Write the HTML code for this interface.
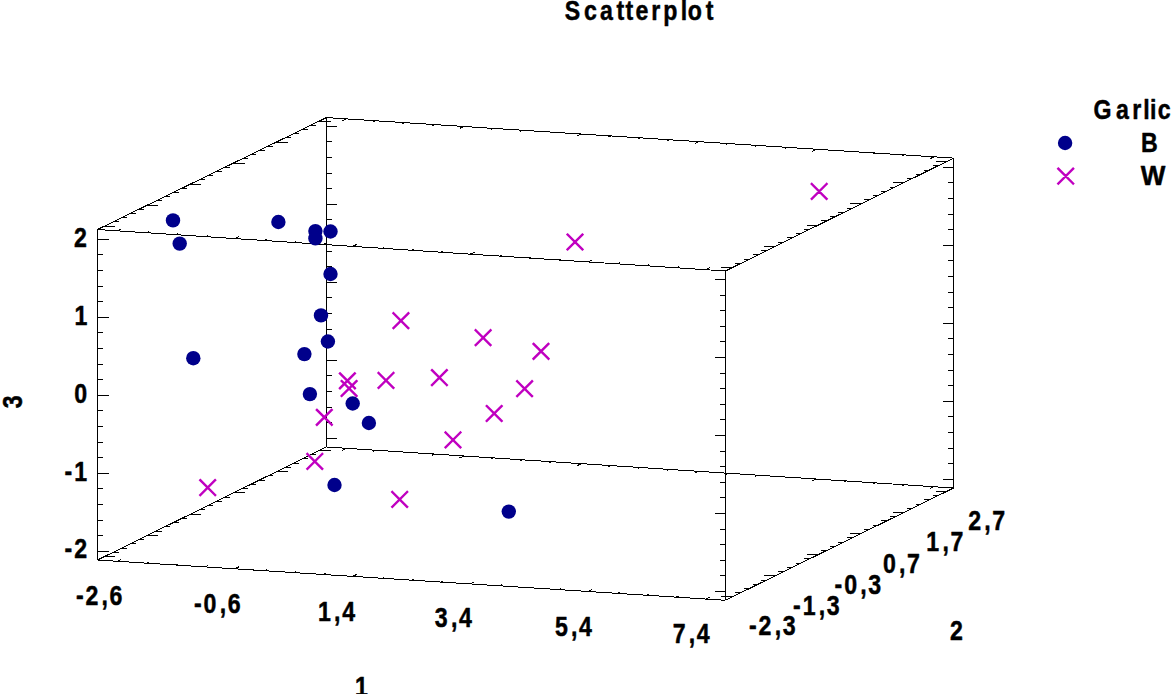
<!DOCTYPE html>
<html lang="en"><head><meta charset="utf-8"><title>Scatterplot</title>
<style>html,body{margin:0;padding:0;background:#fff}svg{display:block}text{font-family:"Liberation Sans",Arial,sans-serif;font-weight:bold;font-size:28.4px;fill:#000;stroke:#000;stroke-width:0.5px;stroke-linejoin:round}</style></head><body>
<svg width="1171" height="694" viewBox="0 0 1171 694">
<rect width="1171" height="694" fill="#fff"/>
<g stroke="#000" stroke-width="1" fill="none" shape-rendering="crispEdges">
<path d="M97.5 560.0L725.5 600.3M97.5 229.5L725.5 271.0M326.4 447.0L953.6 488.0M326.4 117.6L953.6 158.1M97.5 560.0L326.4 447.0M97.5 229.5L326.4 117.6M725.5 600.3L953.6 488.0M725.5 271.0L953.6 158.1M97.5 560.0L97.5 229.5M326.4 447.0L326.4 117.6M725.5 600.3L725.5 271.0M953.6 488.0L953.6 158.1M97.5 551.2L108.5 551.2M97.5 535.6L103.0 535.6M97.5 520.0L103.0 520.0M97.5 504.4L103.0 504.4M97.5 488.8L103.0 488.8M97.5 473.2L108.5 473.2M97.5 457.6L103.0 457.6M97.5 442.0L103.0 442.0M97.5 426.4L103.0 426.4M97.5 410.8L103.0 410.8M97.5 395.2L108.5 395.2M97.5 379.6L103.0 379.6M97.5 364.0L103.0 364.0M97.5 348.4L103.0 348.4M97.5 332.8L103.0 332.8M97.5 317.2L108.5 317.2M97.5 301.6L103.0 301.6M97.5 286.0L103.0 286.0M97.5 270.4L103.0 270.4M97.5 254.8L103.0 254.8M97.5 239.2L108.5 239.2M326.4 438.2L337.4 438.2M326.4 422.6L331.9 422.6M326.4 407.0L331.9 407.0M326.4 391.4L331.9 391.4M326.4 375.8L331.9 375.8M326.4 360.2L337.4 360.2M326.4 344.6L331.9 344.6M326.4 329.0L331.9 329.0M326.4 313.4L331.9 313.4M326.4 297.8L331.9 297.8M326.4 282.2L337.4 282.2M326.4 266.6L331.9 266.6M326.4 251.0L331.9 251.0M326.4 235.4L331.9 235.4M326.4 219.8L331.9 219.8M326.4 204.2L337.4 204.2M326.4 188.6L331.9 188.6M326.4 173.0L331.9 173.0M326.4 157.4L331.9 157.4M326.4 141.8L331.9 141.8M326.4 126.2L337.4 126.2M725.5 591.5L714.5 591.5M725.5 575.9L720.0 575.9M725.5 560.3L720.0 560.3M725.5 544.7L720.0 544.7M725.5 529.1L720.0 529.1M725.5 513.5L714.5 513.5M725.5 497.9L720.0 497.9M725.5 482.3L720.0 482.3M725.5 466.7L720.0 466.7M725.5 451.1L720.0 451.1M725.5 435.5L714.5 435.5M725.5 419.9L720.0 419.9M725.5 404.3L720.0 404.3M725.5 388.7L720.0 388.7M725.5 373.1L720.0 373.1M725.5 357.5L714.5 357.5M725.5 341.9L720.0 341.9M725.5 326.3L720.0 326.3M725.5 310.7L720.0 310.7M725.5 295.1L720.0 295.1M725.5 279.5L714.5 279.5M953.6 479.2L942.6 479.2M953.6 463.6L948.1 463.6M953.6 448.0L948.1 448.0M953.6 432.4L948.1 432.4M953.6 416.8L948.1 416.8M953.6 401.2L942.6 401.2M953.6 385.6L948.1 385.6M953.6 370.0L948.1 370.0M953.6 354.4L948.1 354.4M953.6 338.8L948.1 338.8M953.6 323.2L942.6 323.2M953.6 307.6L948.1 307.6M953.6 292.0L948.1 292.0M953.6 276.4L948.1 276.4M953.6 260.8L948.1 260.8M953.6 245.2L942.6 245.2M953.6 229.6L948.1 229.6M953.6 214.0L948.1 214.0M953.6 198.4L948.1 198.4M953.6 182.8L948.1 182.8M953.6 167.2L942.6 167.2M104.4 556.6L115.4 556.6M113.0 552.4L118.5 552.4M121.6 548.1L127.1 548.1M130.2 543.9L135.7 543.9M138.8 539.6L144.3 539.6M147.4 535.4L158.4 535.4M156.0 531.1L161.5 531.1M164.6 526.9L170.1 526.9M173.2 522.6L178.7 522.6M181.8 518.4L187.3 518.4M190.4 514.1L201.4 514.1M199.0 509.9L204.5 509.9M207.6 505.6L213.1 505.6M216.3 501.4L221.8 501.4M224.9 497.1L230.4 497.1M233.5 492.9L244.5 492.9M242.1 488.6L247.6 488.6M250.7 484.4L256.2 484.4M259.3 480.1L264.8 480.1M267.9 475.9L273.4 475.9M276.5 471.6L287.5 471.6M285.1 467.4L290.6 467.4M293.7 463.1L299.2 463.1M302.3 458.9L307.8 458.9M310.9 454.6L316.4 454.6M319.5 450.4L330.5 450.4M104.4 226.1L115.4 226.1M113.0 221.9L118.5 221.9M121.6 217.7L127.1 217.7M130.2 213.5L135.7 213.5M138.8 209.3L144.3 209.3M147.4 205.1L158.4 205.1M156.0 200.9L161.5 200.9M164.6 196.7L170.1 196.7M173.2 192.5L178.7 192.5M181.8 188.3L187.3 188.3M190.4 184.1L201.4 184.1M199.0 179.9L204.5 179.9M207.6 175.7L213.1 175.7M216.3 171.4L221.8 171.4M224.9 167.2L230.4 167.2M233.5 163.0L244.5 163.0M242.1 158.8L247.6 158.8M250.7 154.6L256.2 154.6M259.3 150.4L264.8 150.4M267.9 146.2L273.4 146.2M276.5 142.0L287.5 142.0M285.1 137.8L290.6 137.8M293.7 133.6L299.2 133.6M302.3 129.4L307.8 129.4M310.9 125.2L316.4 125.2M319.5 121.0L330.5 121.0M732.3 596.9L721.3 596.9M740.9 592.7L735.4 592.7M749.5 588.5L744.0 588.5M758.1 584.3L752.6 584.3M766.6 580.0L761.1 580.0M775.2 575.8L764.2 575.8M783.8 571.6L778.3 571.6M792.4 567.4L786.9 567.4M801.0 563.2L795.5 563.2M809.5 558.9L804.0 558.9M818.1 554.7L807.1 554.7M826.7 550.5L821.2 550.5M835.3 546.3L829.8 546.3M843.8 542.0L838.3 542.0M852.4 537.8L846.9 537.8M861.0 533.6L850.0 533.6M869.6 529.4L864.1 529.4M878.1 525.1L872.6 525.1M886.7 520.9L881.2 520.9M895.3 516.7L889.8 516.7M903.9 512.5L892.9 512.5M912.5 508.3L907.0 508.3M921.0 504.0L915.5 504.0M929.6 499.8L924.1 499.8M938.2 495.6L932.7 495.6M946.8 491.4L935.8 491.4M732.3 267.6L721.3 267.6M740.9 263.4L735.4 263.4M749.5 259.1L744.0 259.1M758.1 254.9L752.6 254.9M766.6 250.6L761.1 250.6M775.2 246.4L764.2 246.4M783.8 242.1L778.3 242.1M792.4 237.9L786.9 237.9M801.0 233.7L795.5 233.7M809.5 229.4L804.0 229.4M818.1 225.2L807.1 225.2M826.7 220.9L821.2 220.9M835.3 216.7L829.8 216.7M843.8 212.4L838.3 212.4M852.4 208.2L846.9 208.2M861.0 203.9L850.0 203.9M869.6 199.7L864.1 199.7M878.1 195.4L872.6 195.4M886.7 191.2L881.2 191.2M895.3 187.0L889.8 187.0M903.9 182.7L892.9 182.7M912.5 178.5L907.0 178.5M921.0 174.2L915.5 174.2M929.6 170.0L924.1 170.0M938.2 165.7L932.7 165.7M946.8 161.5L935.8 161.5M117.2 561.3L121.3 559.3M146.6 563.2L148.9 562.0M176.1 565.0L178.3 563.9M205.5 566.9L207.7 565.8M234.9 568.8L239.0 566.8M264.4 570.7L266.6 569.6M293.8 572.6L296.0 571.5M323.2 574.5L325.5 573.4M352.6 576.4L356.7 574.4M382.1 578.3L384.3 577.2M411.5 580.1L413.7 579.0M440.9 582.0L443.2 580.9M470.4 583.9L474.4 581.9M499.8 585.8L502.0 584.7M529.2 587.7L531.5 586.6M558.6 589.6L560.9 588.5M588.1 591.5L592.1 589.5M617.5 593.4L619.7 592.3M646.9 595.3L649.2 594.2M676.4 597.1L678.6 596.0M705.8 599.0L709.8 597.0M117.2 230.8L121.3 228.8M146.6 232.7L148.9 231.6M176.1 234.7L178.3 233.6M205.5 236.6L207.7 235.5M234.9 238.6L239.0 236.6M264.4 240.5L266.6 239.4M293.8 242.5L296.0 241.4M323.2 244.4L325.5 243.3M352.6 246.4L356.7 244.4M382.1 248.3L384.3 247.2M411.5 250.2L413.7 249.1M440.9 252.2L443.2 251.1M470.4 254.1L474.4 252.2M499.8 256.1L502.0 255.0M529.2 258.0L531.5 256.9M558.6 260.0L560.9 258.9M588.1 261.9L592.1 259.9M617.5 263.9L619.7 262.8M646.9 265.8L649.2 264.7M676.4 267.8L678.6 266.6M705.8 269.7L709.8 267.7M346.1 448.3L342.1 450.3M375.5 450.2L373.2 451.3M404.9 452.1L402.6 453.2M434.3 454.1L432.0 455.2M463.7 456.0L459.6 458.0M493.0 457.9L490.8 459.0M522.4 459.8L520.2 460.9M551.8 461.7L549.6 462.8M581.2 463.7L577.2 465.6M610.6 465.6L608.4 466.7M640.0 467.5L637.8 468.6M669.4 469.4L667.1 470.5M698.8 471.3L694.7 473.3M728.2 473.3L725.9 474.4M757.6 475.2L755.3 476.3M787.0 477.1L784.7 478.2M816.3 479.0L812.3 481.0M845.7 480.9L843.5 482.1M875.1 482.9L872.9 484.0M904.5 484.8L902.3 485.9M933.9 486.7L929.9 488.7M346.1 118.9L342.1 120.9M375.5 120.8L373.2 121.9M404.9 122.7L402.6 123.8M434.3 124.6L432.0 125.7M463.7 126.5L459.6 128.5M493.0 128.4L490.8 129.5M522.4 130.3L520.2 131.4M551.8 132.2L549.6 133.3M581.2 134.1L577.2 136.0M610.6 136.0L608.4 137.1M640.0 137.8L637.8 139.0M669.4 139.7L667.1 140.9M698.8 141.6L694.7 143.6M728.2 143.5L725.9 144.6M757.6 145.4L755.3 146.5M787.0 147.3L784.7 148.4M816.3 149.2L812.3 151.2M845.7 151.1L843.5 152.2M875.1 153.0L872.9 154.1M904.5 154.9L902.3 156.0M933.9 156.8L929.9 158.8"/>
</g>
<g fill="#00008b">
<circle cx="173.0" cy="220.4" r="7.2"/>
<circle cx="179.7" cy="243.6" r="7.2"/>
<circle cx="278.4" cy="222.0" r="7.2"/>
<circle cx="315.4" cy="231.1" r="7.2"/>
<circle cx="315.4" cy="238.4" r="7.2"/>
<circle cx="330.5" cy="231.5" r="7.2"/>
<circle cx="330.5" cy="274.0" r="7.2"/>
<circle cx="321.0" cy="315.4" r="7.2"/>
<circle cx="327.9" cy="341.5" r="7.2"/>
<circle cx="304.4" cy="354.1" r="7.2"/>
<circle cx="193.3" cy="358.2" r="7.2"/>
<circle cx="309.9" cy="394.1" r="7.2"/>
<circle cx="352.7" cy="403.5" r="7.2"/>
<circle cx="368.9" cy="423.0" r="7.2"/>
<circle cx="334.5" cy="485.0" r="7.2"/>
<circle cx="508.8" cy="511.6" r="7.2"/>
<circle cx="1065.1" cy="143.0" r="7.2"/>
</g>
<g stroke="#c000c0" stroke-width="2.4" stroke-linecap="square" fill="none">
<path d="M811.8 184.0l14.8 14.8m-14.8 0l14.8 -14.8M567.6 234.6l14.8 14.8m-14.8 0l14.8 -14.8M393.5 313.3l14.8 14.8m-14.8 0l14.8 -14.8M475.7 330.3l14.8 14.8m-14.8 0l14.8 -14.8M533.6 343.9l14.8 14.8m-14.8 0l14.8 -14.8M340.0 373.4l14.8 14.8m-14.8 0l14.8 -14.8M341.7 381.1l14.8 14.8m-14.8 0l14.8 -14.8M378.6 373.0l14.8 14.8m-14.8 0l14.8 -14.8M432.0 370.2l14.8 14.8m-14.8 0l14.8 -14.8M517.2 381.3l14.8 14.8m-14.8 0l14.8 -14.8M316.9 409.9l14.8 14.8m-14.8 0l14.8 -14.8M486.8 406.1l14.8 14.8m-14.8 0l14.8 -14.8M445.6 432.5l14.8 14.8m-14.8 0l14.8 -14.8M307.4 454.0l14.8 14.8m-14.8 0l14.8 -14.8M200.3 480.2l14.8 14.8m-14.8 0l14.8 -14.8M392.3 492.0l14.8 14.8m-14.8 0l14.8 -14.8M1058.3 168.7l14.8 14.8m-14.8 0l14.8 -14.8"/>
</g>
<text transform="translate(564.73 20.10) scale(0.8150 1)" x="0.00 23.77 43.31 63.67 74.47 86.96 106.07 120.91 142.27 150.88 173.12">Scatterplot</text>
<text transform="translate(1093.55 118.50) scale(0.8150 1)" x="0.00 27.70 47.39 60.89 69.36 78.71">Garlic</text>
<text transform="translate(1140.95 152.00) scale(0.8150 1)" x="0.00">B</text>
<text transform="translate(1140.67 185.00) scale(0.9200 1)" x="0.00">W</text>
<text transform="translate(73.89 247.00) scale(0.8150 1)" x="0.00">2</text>
<text transform="translate(74.54 324.60) scale(0.8150 1)" x="0.00">1</text>
<text transform="translate(74.37 403.00) scale(0.8150 1)" x="0.00">0</text>
<text transform="translate(64.60 480.70) scale(0.8150 1)" x="0.00 11.81">-1</text>
<text transform="translate(64.60 558.00) scale(0.8150 1)" x="0.00 11.81">-2</text>
<text transform="translate(75.90 605.20) scale(0.8150 1)" x="0.00 11.81 31.52 41.38">-2,6</text>
<text transform="translate(194.00 612.80) scale(0.8150 1)" x="0.00 11.81 31.52 41.38">-0,6</text>
<text transform="translate(318.04 620.80) scale(0.8150 1)" x="0.00 19.72 29.57">1,4</text>
<text transform="translate(434.87 627.30) scale(0.8150 1)" x="0.00 19.72 29.57">3,4</text>
<text transform="translate(554.88 635.60) scale(0.8150 1)" x="0.00 19.72 29.57">5,4</text>
<text transform="translate(672.70 643.20) scale(0.8150 1)" x="0.00 19.72 29.57">7,4</text>
<text transform="translate(749.00 635.10) scale(0.8150 1)" x="0.00 11.81 31.52 41.38">-2,3</text>
<text transform="translate(793.10 614.80) scale(0.8150 1)" x="0.00 11.81 31.52 41.38">-1,3</text>
<text transform="translate(834.60 594.20) scale(0.8150 1)" x="0.00 11.81 31.52 41.38">-0,3</text>
<text transform="translate(882.97 572.50) scale(0.8150 1)" x="0.00 19.72 29.57">0,7</text>
<text transform="translate(926.34 551.10) scale(0.8150 1)" x="0.00 19.72 29.57">1,7</text>
<text transform="translate(968.19 529.60) scale(0.8150 1)" x="0.00 19.72 29.57">2,7</text>
<text transform="translate(354.94 696.00) scale(0.8150 1)" x="0.00">1</text>
<text transform="translate(949.89 640.00) scale(0.8150 1)" x="0.00">2</text>
<text transform="translate(21.80 408.23) rotate(-90) scale(0.8150 1)">3</text>
</svg></body></html>
